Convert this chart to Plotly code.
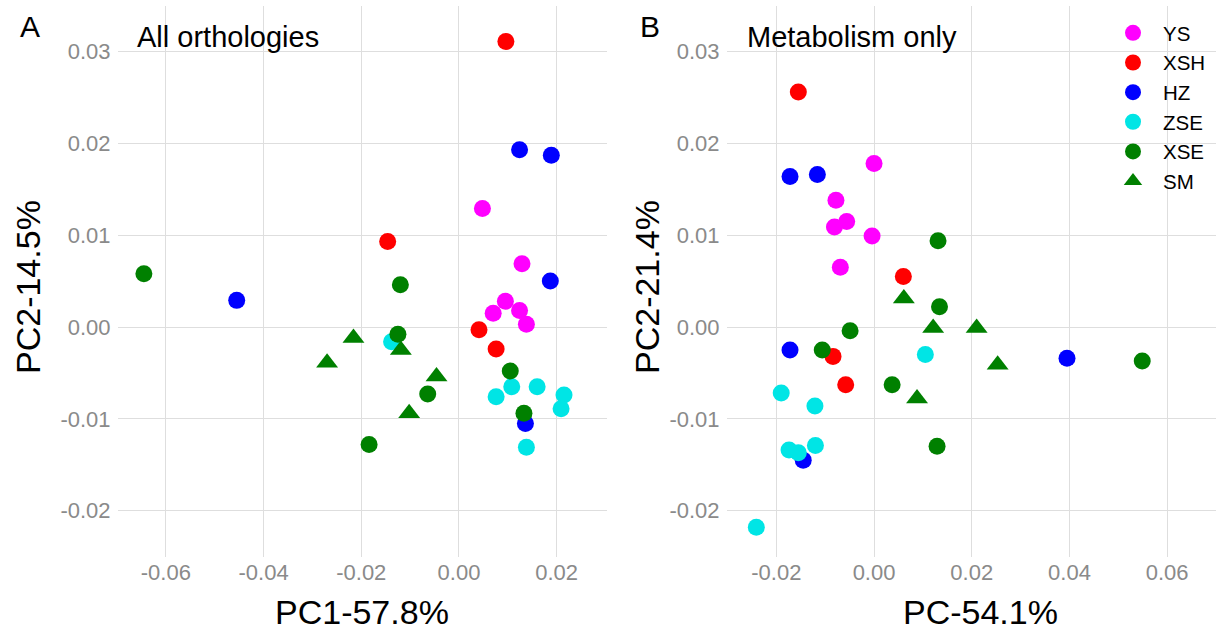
import plotly.graph_objects as go

groups = ["YS", "XSH", "HZ", "ZSE", "XSE", "SM"]
colors = {"YS": "#FF00FF", "XSH": "#FF0000", "HZ": "#0000FF", "ZSE": "#00E5E5", "XSE": "#008000", "SM": "#008000"}
symbols = {"YS": "circle", "XSH": "circle", "HZ": "circle", "ZSE": "circle", "XSE": "circle", "SM": "triangle-up"}

# Panel A: all orthologies
a_ys_x = [0.0048, 0.0129, 0.0070, 0.0095, 0.0124, 0.0138]
a_ys_y = [0.0129, 0.0069, 0.0015, 0.0028, 0.0018, 0.0003]
a_xsh_x = [0.0096, -0.0146, 0.0041, 0.0076]
a_xsh_y = [0.0311, 0.0093, -0.0003, -0.0024]
a_hz_x = [0.0124, 0.0189, 0.0187, -0.0455, 0.0136]
a_hz_y = [0.0193, 0.0187, 0.0050, 0.0029, -0.0105]
a_zse_x = [0.0108, 0.0160, 0.0076, 0.0215, 0.0209, 0.0138, -0.0138]
a_zse_y = [-0.0065, -0.0065, -0.0076, -0.0074, -0.0089, -0.0131, -0.0016]
a_xse_x = [-0.0645, -0.0120, -0.0125, -0.0064, -0.0184, 0.0105, 0.0133]
a_xse_y = [0.0058, 0.0046, -0.0008, -0.0073, -0.0128, -0.0048, -0.0094]
a_sm_x = [-0.0216, -0.0270, -0.0119, -0.0046, -0.0102]
a_sm_y = [-0.0012, -0.0039, -0.0025, -0.0054, -0.0094]

# Panel B: metabolism only
b_ys_x = [0.0000, -0.0078, -0.0056, -0.0081, -0.0004, -0.0069]
b_ys_y = [0.0178, 0.0138, 0.0115, 0.0109, 0.0099, 0.0065]
b_xsh_x = [-0.0155, 0.0060, -0.0084, -0.0058]
b_xsh_y = [0.0256, 0.0055, -0.0032, -0.0063]
b_hz_x = [-0.0172, -0.0116, -0.0172, 0.0395, -0.0145]
b_hz_y = [0.0164, 0.0166, -0.0025, -0.0034, -0.0145]
b_zse_x = [0.0105, -0.0190, -0.0121, -0.0174, -0.0155, -0.0120, -0.0241]
b_zse_y = [-0.0030, -0.0072, -0.0086, -0.0134, -0.0137, -0.0129, -0.0218]
b_xse_x = [0.0131, 0.0134, -0.0049, -0.0106, 0.0549, 0.0037, 0.0129]
b_xse_y = [0.0094, 0.0022, -0.0004, -0.0025, -0.0037, -0.0063, -0.0130]
b_sm_x = [0.0061, 0.0121, 0.0210, 0.0253, 0.0088]
b_sm_y = [0.0031, -0.0001, -0.0001, -0.0041, -0.0078]

panel_a = {"YS": (a_ys_x, a_ys_y), "XSH": (a_xsh_x, a_xsh_y), "HZ": (a_hz_x, a_hz_y),
           "ZSE": (a_zse_x, a_zse_y), "XSE": (a_xse_x, a_xse_y), "SM": (a_sm_x, a_sm_y)}
panel_b = {"YS": (b_ys_x, b_ys_y), "XSH": (b_xsh_x, b_xsh_y), "HZ": (b_hz_x, b_hz_y),
           "ZSE": (b_zse_x, b_zse_y), "XSE": (b_xse_x, b_xse_y), "SM": (b_sm_x, b_sm_y)}

a_xticks = [-0.06, -0.04, -0.02, 0.0, 0.02]
a_xticktext = ["-0.06", "-0.04", "-0.02", "0.00", "0.02"]
b_xticks = [-0.02, 0.0, 0.02, 0.04, 0.06]
b_xticktext = ["-0.02", "0.00", "0.02", "0.04", "0.06"]
yticks = [-0.02, -0.01, 0.0, 0.01, 0.02, 0.03]
yticktext = ["-0.02", "-0.01", "0.00", "0.01", "0.02", "0.03"]

FONT = "Liberation Sans, Arial, sans-serif"
W, H = 1221, 637

fig = go.Figure()
for g in groups:
    x, y = panel_a[g]
    fig.add_trace(go.Scatter(x=x, y=y, mode="markers", name=g, showlegend=False,
                             marker=dict(color=colors[g], symbol=symbols[g],
                                         size=19 if g == "SM" else 17, line=dict(width=0)),
                             xaxis="x", yaxis="y"))
for g in groups:
    x, y = panel_b[g]
    fig.add_trace(go.Scatter(x=x, y=y, mode="markers", name=g, showlegend=True,
                             marker=dict(color=colors[g], symbol=symbols[g],
                                         size=19 if g == "SM" else 17, line=dict(width=0)),
                             xaxis="x2", yaxis="y2"))

grid = "#dedede"
tickfont = dict(family=FONT, size=22, color="#8a8a8a")
x_axis = dict(showgrid=True, gridcolor=grid, gridwidth=1, zeroline=False, showline=False,
              ticks="", tickfont=tickfont)
y_axis = dict(showgrid=True, gridcolor=grid, gridwidth=1, zeroline=False, showline=False,
              ticks="outside", ticklen=2, tickcolor="rgba(0,0,0,0)", tickfont=tickfont)
ydom = [1 - 557 / H, 1 - 6 / H]
yrange = [-0.02505, 0.03496]

fig.update_layout(
    width=W, height=H,
    margin=dict(l=0, r=0, t=0, b=0),
    paper_bgcolor="white", plot_bgcolor="white",
    xaxis=dict(domain=[118 / W, 607 / W], range=[-0.0698, 0.0303], tickvals=a_xticks,
               ticktext=a_xticktext, anchor="y", **x_axis),
    yaxis=dict(domain=ydom, range=yrange, tickvals=yticks, ticktext=yticktext,
               anchor="x", **y_axis),
    xaxis2=dict(domain=[727 / W, 1216 / W], range=[-0.0301, 0.0700], tickvals=b_xticks,
                ticktext=b_xticktext, anchor="y2", **x_axis),
    yaxis2=dict(domain=ydom, range=yrange, tickvals=yticks, ticktext=yticktext,
                anchor="x2", **y_axis),
    legend=dict(x=1103 / W, y=1 - 13 / H, xanchor="left", yanchor="top",
                bgcolor="rgba(0,0,0,0)", font=dict(family=FONT, size=20.5, color="black"),
                tracegroupgap=0, itemwidth=50),
    showlegend=True,
)

ann = [
    dict(text="A", x=30 / W, y=1 - 26 / H, size=30, xanchor="center", angle=0),
    dict(text="B", x=650 / W, y=1 - 26 / H, size=30, xanchor="center", angle=0),
    dict(text="All orthologies", x=135 / W, y=1 - 37 / H, size=29, xanchor="left", angle=0),
    dict(text="Metabolism only", x=745 / W, y=1 - 37 / H, size=29, xanchor="left", angle=0),
    dict(text="PC1-57.8%", x=362 / W, y=1 - 612 / H, size=34, xanchor="center", angle=0),
    dict(text="PC-54.1%", x=980 / W, y=1 - 612 / H, size=34, xanchor="center", angle=0),
    dict(text="PC2-14.5%", x=28 / W, y=1 - 287 / H, size=34, xanchor="center", angle=-90),
    dict(text="PC2-21.4%", x=647 / W, y=1 - 287 / H, size=34, xanchor="center", angle=-90),
]
for a in ann:
    fig.add_annotation(text=a["text"], x=a["x"], y=a["y"], xref="paper", yref="paper",
                       xanchor=a["xanchor"], yanchor="middle", showarrow=False,
                       textangle=a["angle"], font=dict(family=FONT, size=a["size"], color="black"))

fig.write_html("out.html", config={"displayModeBar": False},
               post_script="document.body.style.margin='0';document.body.style.overflow='hidden';")
